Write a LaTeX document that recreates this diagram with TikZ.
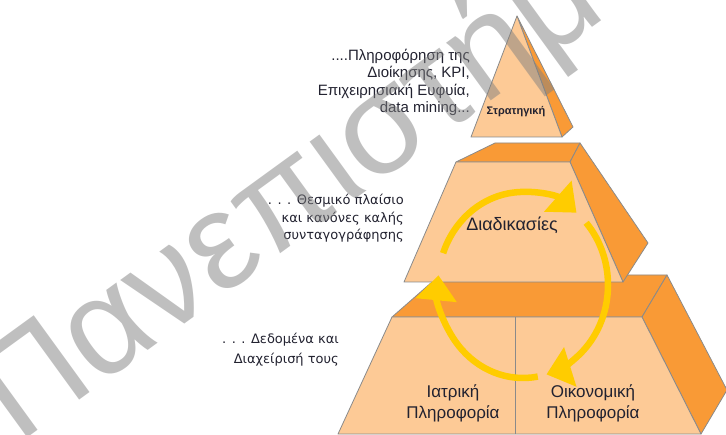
\documentclass[tikz,border=0pt]{standalone}
\usepackage{fontspec}
\setmainfont{Liberation Sans}
\newfontfamily\widesans{DejaVu Sans}
\usetikzlibrary{arrows.meta}
\definecolor{peach}{HTML}{FDCA96}
\definecolor{blockorange}{HTML}{F99A36}
\definecolor{edgegray}{HTML}{8A8A8A}
\definecolor{cyclegold}{HTML}{FFCC00}
\definecolor{labelink}{HTML}{222230}

\begin{document}
\begin{tikzpicture}[x=1pt,y=1pt,
  face/.style={fill=peach, draw=edgegray, line width=0.8pt, line join=round},
  shade/.style={fill=blockorange, draw=edgegray, line width=0.8pt, line join=round},
  cyclearrow/.style={draw=cyclegold, line width=6.5pt, -{Triangle[width=40pt,length=25pt]}},
  note/.style={align=right, anchor=north east, inner sep=0pt, text=labelink},
  blocklabel/.style={align=center, inner sep=0pt, text=labelink}
]
\useasboundingbox (0,0) rectangle (726,434);
\clip (0,0) rectangle (726,434);

% bottom block: top face, side, front
\draw[shade] (392,117) -- (440,159) -- (667,159) -- (642,117) -- cycle;
\draw[shade] (642,117) -- (667,159) -- (727,44) -- (701,0) -- cycle;
\draw[face] (392,117) -- (642,117) -- (701,0) -- (338,0) -- cycle;
\draw[edgegray, line width=0.8pt] (515,117) -- (515,0);

% middle block
\draw[shade] (456,272) -- (495,291) -- (580,291) -- (570,272) -- cycle;
\draw[shade] (570,272) -- (580,291) -- (648,191) -- (623,152) -- cycle;
\draw[face] (456,272) -- (570,272) -- (623,152) -- (404,152) -- cycle;

% top pyramid
\draw[shade] (517,418) -- (573,307) -- (562,297) -- cycle;
\draw[face] (517,418) -- (562,297) -- (471,297) -- cycle;

% the cycle of three arrows
\coordinate (hub) at (523,149);
\draw[cyclearrow] (hub) ++(160:85 and 93) arc[start angle=160, end angle=51, x radius=85pt, y radius=93pt];
\draw[cyclearrow] (hub) ++(42:85 and 93) arc[start angle=42, end angle=-74, x radius=85pt, y radius=93pt];
\draw[cyclearrow] (hub) ++(-80:85 and 93) arc[start angle=-80, end angle=-186, x radius=85pt, y radius=93pt];

% block labels
\node[font=\bfseries\fontsize{11}{13}\selectfont, blocklabel] (strat) at (516,322) {Στρατηγική};
\node[font=\fontsize{18}{21}\selectfont, blocklabel] (proc) at (512,209) {Διαδικασίες};
\node[font=\fontsize{17}{21}\selectfont, blocklabel] (med) at (453,31) {Ιατρική\\Πληροφορία};
\node[font=\fontsize{17}{21}\selectfont, blocklabel] (fin) at (593,31) {Οικονομική\\Πληροφορία};

% side notes
\node[note, font=\fontsize{15}{17.5}\selectfont] (topnote) at (470,385)
  {....Πληροφόρηση της\\Διοίκησης, KPI,\\Επιχειρησιακή Ευφυία,\\data mining...};
\node[note, font=\widesans\fontsize{13}{17.5}\selectfont] (midnote) at (404,240)
  {. . . Θεσμικό πλαίσιο\\και κανόνες καλής\\συνταγογράφησης};
\node[note, font=\widesans\fontsize{13}{20}\selectfont] (lownote) at (339,101)
  {. . . Δεδομένα και\\Διαχείρισή τους};

% stamp across the page
\node[rotate=36, anchor=base west, inner sep=0pt, font=\fontsize{138}{138}\selectfont,
      text=gray, opacity=0.5] (stamp) at (18,-11) {Πανεπιστήμ};
\end{tikzpicture}
\end{document}
